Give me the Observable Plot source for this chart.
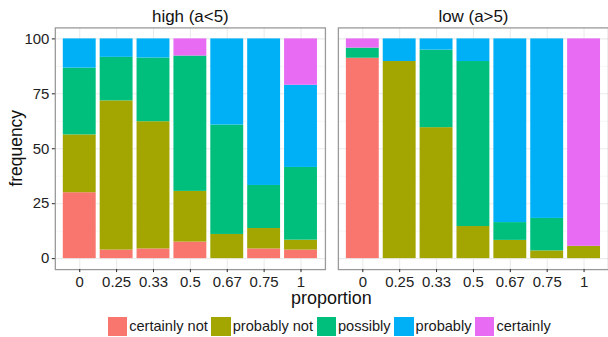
<!DOCTYPE html>
<html>
<head>
<meta charset="utf-8">
<script src="https://cdn.jsdelivr.net/npm/d3@7"></script>
<script src="https://cdn.jsdelivr.net/npm/@observablehq/plot@0.6"></script>
<style>
  html, body { margin: 0; padding: 0; background: #fff; overflow: hidden; }
  #chart { position: relative; width: 608px; height: 337px; overflow: hidden; font-family: "Liberation Sans", Arial, sans-serif; }
  #chart svg { position: absolute; left: 0; top: 0; }
  #legend { position: absolute; left: 0; top: 316.5px; width: 662px; display: flex; justify-content: center; align-items: center; font-size: 14.6px; color: #1a1a1a; }
  .item { display: flex; align-items: center; }
  .key { width: 19.4px; height: 19.4px; margin-right: 2px; }
  .lab { margin-right: 3.5px; white-space: nowrap; }
</style>
</head>
<body>
<div id="chart"></div>
<script>
// ---- data ----
const facets = ["high (a<5)", "low (a>5)"];
const proportions = ["0", "0.25", "0.33", "0.5", "0.67", "0.75", "1"];
const responses = ["certainly not", "probably not", "possibly", "probably", "certainly"];
const responseColors = ["#F8766D", "#A3A500", "#00BF7D", "#00B0F6", "#E76BF3"];
const yTicks = [0, 25, 50, 75, 100];
const yMinorTicks = [12.5, 37.5, 62.5, 87.5];

const highCertainlyNot = [30.0, 3.9, 4.4, 7.5, 0, 4.4, 3.9];
const highProbablyNot  = [26.3, 67.9, 57.9, 23.1, 11.0, 9.3, 4.5];
const highPossibly     = [30.4, 19.8, 29.0, 61.6, 49.8, 19.6, 33.1];
const highProbably     = [13.3, 8.4, 8.7, 0, 39.2, 66.7, 37.4];
const highCertainly    = [0, 0, 0, 7.8, 0, 0, 21.1];

const lowCertainlyNot = [91.2, 0, 0, 0, 0, 0, 0];
const lowProbablyNot  = [0, 89.7, 59.6, 14.6, 8.3, 3.5, 5.6];
const lowPossibly     = [4.6, 0, 35.3, 75.1, 8.1, 14.8, 0];
const lowProbably     = [0, 10.3, 5.1, 10.3, 83.6, 81.7, 0];
const lowCertainly    = [4.2, 0, 0, 0, 0, 0, 94.4];

const seriesByFacet = [
  [highCertainlyNot, highProbablyNot, highPossibly, highProbably, highCertainly],
  [lowCertainlyNot, lowProbablyNot, lowPossibly, lowProbably, lowCertainly]
];

const data = [];
facets.forEach((f, fi) => responses.forEach((r, ri) => proportions.forEach((p, pi) => {
  const v = seriesByFacet[fi][ri][pi];
  if (v > 0) data.push({facet: f, proportion: p, response: r, value: v});
})));

const W = 610, H = 312;
const plot = Plot.plot({
  width: W, height: H,
  marginLeft: 55, marginRight: 0, marginTop: 27.5, marginBottom: 42,
  style: {fontFamily: "Liberation Sans, Arial, sans-serif", background: "transparent", overflow: "visible"},
  fx: {domain: facets, paddingInner: 0.0458, paddingOuter: 0, label: null},
  x: {domain: proportions, paddingInner: 0.1, paddingOuter: 0.15, label: null},
  y: {domain: [-5, 105], label: null},
  color: {domain: responses, range: responseColors},
  marks: [
    Plot.gridY(yMinorTicks, {stroke: "#f2f2f2", strokeOpacity: 1, strokeWidth: 0.7}),
    Plot.gridY(yTicks, {stroke: "#ebebeb", strokeOpacity: 1, strokeWidth: 1.1}),
    Plot.gridX({stroke: "#ebebeb", strokeOpacity: 1, strokeWidth: 1.1}),
    Plot.barY(data, {fx: "facet", x: "proportion", y: "value", fill: "response"}),
    Plot.frame({stroke: "#9a9a9a", strokeWidth: 1.3}),
    Plot.axisY(yTicks, {tickSize: 3, tickPadding: 3, fontSize: 15, color: "#222", label: null}),
    Plot.axisX({tickSize: 3, tickPadding: 4, fontSize: 15, color: "#222", label: null}),
    Plot.axisFx({anchor: "top", tickSize: 0, tickPadding: 6, fontSize: 17, color: "#111", label: null})
  ]
});

const chart = document.getElementById("chart");
chart.appendChild(plot);

const svg = d3.select(plot);
svg.append("text")
  .attr("transform", "translate(22,148.75) rotate(-90)")
  .attr("text-anchor", "middle")
  .attr("font-size", 17.5)
  .attr("fill", "#111")
  .text("frequency");
svg.append("text")
  .attr("x", 332.5).attr("y", 305.5)
  .attr("text-anchor", "middle")
  .attr("font-size", 18)
  .attr("fill", "#111")
  .text("proportion");

const legend = document.createElement("div");
legend.id = "legend";
responses.forEach((r, i) => {
  const item = document.createElement("div");
  item.className = "item";
  const key = document.createElement("div");
  key.className = "key";
  key.style.background = responseColors[i];
  const lab = document.createElement("span");
  lab.className = "lab";
  lab.textContent = r;
  item.appendChild(key);
  item.appendChild(lab);
  legend.appendChild(item);
});
chart.appendChild(legend);
</script>
</body>
</html>
